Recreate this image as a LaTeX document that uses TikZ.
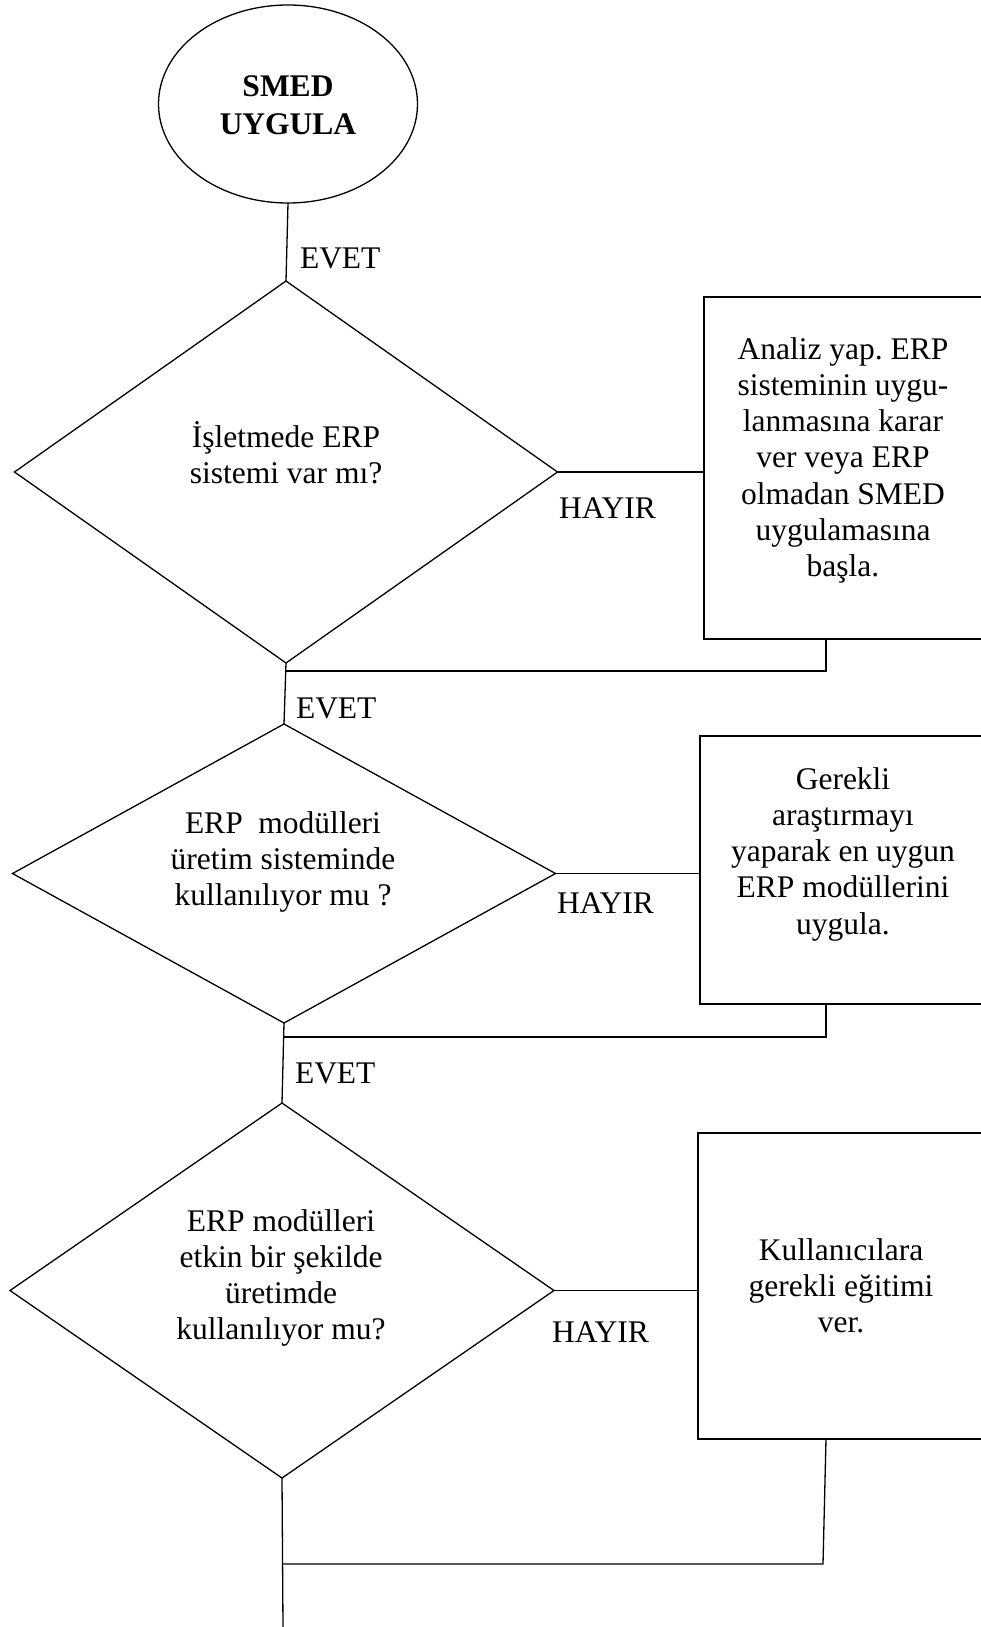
\documentclass[tikz,border=0pt]{standalone}
\usepackage{fontspec}
\setmainfont{Liberation Serif}
\usetikzlibrary{shapes.geometric}
\frenchspacing
\newcommand\basefont{\fontsize{31.5}{36.3}\selectfont}
\newcommand\mlines[1]{\begin{tabular}[t]{@{}c@{}}#1\end{tabular}}
\begin{document}
\begin{tikzpicture}[x=1pt,y=-1pt,
  every node/.style={font=\basefont, inner sep=0pt, outer sep=0pt},
  startshape/.style={draw=black, line width=1.3pt, ellipse},
  decision/.style={draw=black, line width=1.3pt, diamond},
  actionbox/.style={draw=black, line width=1.8pt, rectangle},
  blocktext/.style={anchor=base},
  answer/.style={anchor=base west},
  link/.style={draw=black, line width=1.3pt}]
\useasboundingbox (0,0) rectangle (981,1627);

% start
\node[startshape, minimum width=259pt, minimum height=198pt] (start) at (288,104) {};
\node[blocktext, font=\basefont\bfseries] (starttext) at (288,97) {\mlines{SMED\\[1.7pt]UYGULA}};

% decisions
\node[decision, minimum width=543pt, minimum height=382pt] (d1) at (286,472) {};
\node[decision, minimum width=543pt, minimum height=299pt] (d2) at (284,873.5) {};
\node[decision, minimum width=544pt, minimum height=375pt] (d3) at (282,1290.5) {};

\node[blocktext] (d1text) at (286,447) {\mlines{İşletmede ERP\\sistemi var mı?}};
\node[blocktext] (d2text) at (283,833) {\mlines{ERP~ modülleri\\üretim sisteminde\\kullanılıyor mu ?}};
\node[blocktext] (d3text) at (281,1231) {\mlines{ERP modülleri\\etkin bir şekilde\\üretimde\\kullanılıyor mu?}};

% actions (right edge runs past the page)
\node[actionbox, minimum width=280pt, minimum height=342pt] (b1) at (844,468) {};
\node[actionbox, minimum width=284pt, minimum height=268pt] (b2) at (842,870) {};
\node[actionbox, minimum width=286pt, minimum height=306pt] (b3) at (841,1286) {};

\node[blocktext] (b1text) at (843,359) {\mlines{Analiz yap. ERP\\sisteminin uygu-\\lanmasına karar\\ver veya ERP\\olmadan SMED\\uygulamasına\\başla.}};
\node[blocktext] (b2text) at (843,789) {\mlines{Gerekli\\araştırmayı\\yaparak en uygun\\ERP modüllerini\\uygula.}};
\node[blocktext] (b3text) at (841,1260) {\mlines{Kullanıcılara\\gerekli eğitimi\\ver.}};

% answers
\node[answer] (yes1) at (300,268) {EVET};
\node[answer] (yes2) at (296,718) {EVET};
\node[answer] (yes3) at (295,1083) {EVET};
\node[answer] (no1) at (559,518) {HAYIR};
\node[answer] (no2) at (557,913) {HAYIR};
\node[answer] (no3) at (552,1342) {HAYIR};

% connectors
\coordinate (r1) at (826,671);
\coordinate (r2) at (826,1037);
\coordinate (r3) at (823,1564);
\coordinate (r3top) at (826,1439);
\coordinate (end) at (283,1627);

\draw[link] (start.south) -- (d1.north);
\draw[link] (d1.east) -- (d1.east -| b1.west);
\draw[link] (d1.south) -- (d2.north);
\draw[link] (r1 |- b1.south) -- (r1) -- (r1 -| d1.south);

\draw[link] (d2.east) -- (d2.east -| b2.west);
\draw[link] (d2.south) -- (d3.north);
\draw[link] (r2 |- b2.south) -- (r2) -- (r2 -| d2.south);

\draw[link] (d3.east) -- (d3.east -| b3.west);
\draw[link] (d3.south) -- (end);
\draw[link] (r3top) -- (r3) -- (r3 -| d3.south);
\end{tikzpicture}
\end{document}
